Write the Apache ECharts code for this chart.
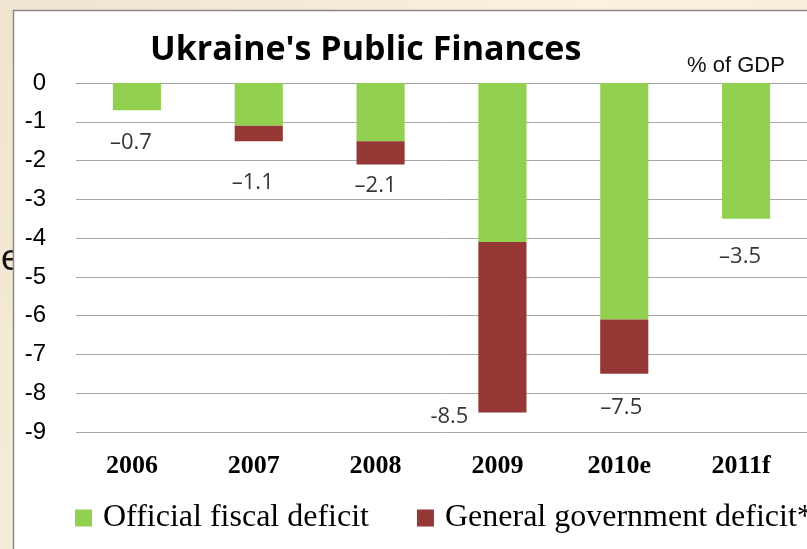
<!DOCTYPE html>
<html>
<head>
<meta charset="utf-8">
<script src="https://cdn.jsdelivr.net/npm/echarts@6/dist/echarts.min.js"></script>
<style>
  html, body { margin: 0; padding: 0; }
  #chart { width: 807px; height: 549px; }
</style>
</head>
<body>
<div id="chart"></div>
<script>
// values, % of GDP
const years = ['2006', '2007', '2008', '2009', '2010e', '2011f'];
const officialDeficit = [-0.7, -1.1, -1.5, -4.1, -6.1, -3.5];
const generalDeficit = [-0.7, -1.5, -2.1, -8.5, -7.5, -3.5];
const valueLabels = ['\u20130.7', '\u20131.1', '\u20132.1', '-8.5', '\u20137.5', '\u20133.5'];
const yTicks = [0, -1, -2, -3, -4, -5, -6, -7, -8, -9];

// red part of each stack = general minus official
const extraDeficit = generalDeficit.map((g, i) => Math.round((g - officialDeficit[i]) * 10) / 10);

// where each value label sits, relative to the bottom of its stack
const labelShift = [[-6, 33], [-6, 42], [-5, 21], [-53, 4], [-3, 34], [-6, 38]];

const chart = echarts.init(document.getElementById('chart'));

const option = {
  animation: false,
  backgroundColor: {
    type: 'linear', x: 0, y: 0, x2: 1, y2: 1,
    colorStops: [
      { offset: 0, color: '#EEE4CF' },
      { offset: 0.5, color: '#FAF1DE' },
      { offset: 1, color: '#F4EAD5' }
    ]
  },
  graphic: [
    {
      type: 'text', z: -20, left: 1, top: 242,
      style: { text: 'e', font: '36px "Liberation Sans", Arial', fill: '#111' }
    },
    {
      type: 'rect', z: -10,
      shape: { x: 13.5, y: 10.5, width: 820, height: 560 },
      style: { fill: '#fff', stroke: '#8a8a8a', lineWidth: 1.5 }
    }
  ],
  title: [
    {
      text: "Ukraine's Public Finances",
      left: 145, top: 28,
      textStyle: { fontFamily: 'Open Sans', fontWeight: 'bold', fontSize: 34, color: '#000' }
    },
    {
      text: '% of GDP',
      left: 682, top: 50,
      textStyle: { fontFamily: 'Liberation Sans', fontWeight: 'normal', fontSize: 22, color: '#111' }
    }
  ],
  legend: {
    left: 70, top: 497, width: 1200,
    icon: 'rect', itemWidth: 17, itemHeight: 17, itemGap: 48,
    textStyle: {
      fontFamily: 'Liberation Serif', fontSize: 32, color: '#000',
      padding: [0, 0, 0, 6]
    },
    data: ['Official fiscal deficit', 'General government deficit*']
  },
  grid: { left: 76, right: -1, top: 83, bottom: 117 },
  xAxis: [
    {
      type: 'category', data: years, position: 'top',
      axisLine: { lineStyle: { color: '#a0a0a0', width: 1 } },
      axisTick: { inside: true, length: 7, lineStyle: { color: '#a0a0a0' } },
      axisLabel: { show: false }
    },
    {
      type: 'category', data: years, position: 'bottom',
      axisLine: { show: false }, axisTick: { show: false },
      axisLabel: {
        margin: 21, padding: [0, 10, 0, 0],
        fontFamily: 'Liberation Serif', fontWeight: 'bold', fontSize: 26, color: '#000'
      }
    }
  ],
  yAxis: {
    type: 'value', min: yTicks[yTicks.length - 1], max: yTicks[0], interval: 1,
    axisLine: { show: false }, axisTick: { show: false },
    splitLine: { lineStyle: { color: '#a8a8a8', width: 1 } },
    axisLabel: {
      margin: 30,
      fontFamily: 'Liberation Sans', fontSize: 24, color: '#000'
    }
  },
  series: [
    {
      name: 'Official fiscal deficit', type: 'bar', stack: 'deficit',
      data: officialDeficit, barWidth: '39.5%',
      itemStyle: { color: '#92D050' }
    },
    {
      name: 'General government deficit*', type: 'bar', stack: 'deficit',
      data: extraDeficit, barWidth: '39.5%',
      itemStyle: { color: '#953735' }
    },
    {
      type: 'scatter', symbolSize: 0, silent: true,
      data: generalDeficit.map((v, i) => ({
        value: v,
        label: { offset: labelShift[i] }
      })),
      label: {
        show: true, position: 'inside',
        formatter: (p) => valueLabels[p.dataIndex],
        fontFamily: 'Open Sans', fontSize: 22, color: '#000'
      }
    }
  ]
};

chart.setOption(option);
</script>
</body>
</html>
